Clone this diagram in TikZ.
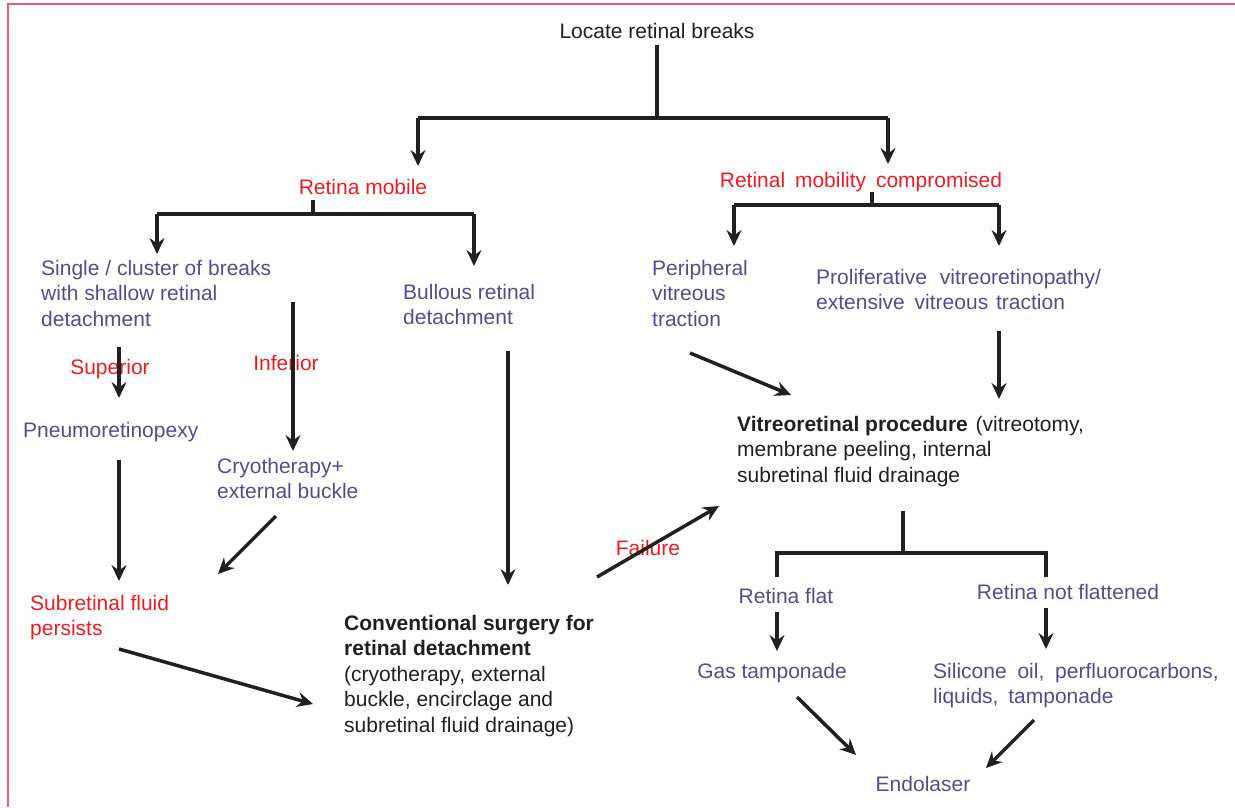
\documentclass[tikz,border=0pt]{standalone}
\usepackage{fontspec}
\setmainfont{Liberation Sans}
\usetikzlibrary{arrows.meta}
\definecolor{ink}{RGB}{35,31,32}
\definecolor{vio}{RGB}{83,77,142}
\definecolor{rd}{RGB}{237,28,36}
\definecolor{frame}{RGB}{225,93,125}
% a widened word space for justified lines
\newcommand{\wsp}[1]{\ \hspace{#1pt}}
\begin{document}
\begin{tikzpicture}[x=1pt,y=-1pt,
  font=\fontsize{21}{25.5}\selectfont,
  txt/.style={inner sep=0pt, align=left, anchor=base west},
  ctr/.style={inner sep=0pt, anchor=base},
  opt/.style={text=vio},
  lab/.style={text=rd},
  dark/.style={text=ink},
  conn/.style={draw=ink, line width=3.5pt},
  arr/.style={conn, -{Stealth[length=16pt,width=15pt,inset=5.5pt]}}]

\useasboundingbox (0,0) rectangle (1235,807);
\draw[frame, line width=2pt] (8,807) -- (8,4) -- (1235,4);

% ---- text nodes (base anchor = baseline of the last line)
\node[ctr, dark] (top) at (657,38) {Locate retinal breaks};
\node[ctr, lab] (mob) at (363,194) {Retina mobile};
\node[ctr, lab] (comp) at (861,187) {Retinal\wsp{4}mobility\wsp{4}compromised};
\node[txt, opt] (single) at (41,326) {Single / cluster of breaks\\with shallow retinal\\detachment};
\node[ctr, lab] (sup) at (110,374) {Superior};
\node[ctr, lab] (inf) at (286,370) {Inferior};
\node[txt, opt] (pneu) at (23,437) {Pneumoretinopexy};
\node[txt, opt] (cryo) at (217,498.5) {Cryotherapy+\\external buckle};
\node[txt, lab] (srf) at (30,635.5) {Subretinal fluid\\persists};
\node[txt, opt] (bull) at (403,324.5) {Bullous retinal\\detachment};
\node[txt, dark] (conv) at (344,732) {\textbf{Conventional surgery for}\\\textbf{retinal detachment}\\(cryotherapy, external\\buckle, encirclage and\\subretinal fluid drainage)};
\node[ctr, lab] (fail) at (648,555) {Failure};
\node[txt, opt] (peri) at (652,326) {Peripheral\\vitreous\\traction};
\node[txt, opt] (pvr) at (816,309.5) {Proliferative\wsp{7}vitreoretinopathy/\\extensive\wsp{4}vitreous\wsp{2}traction};
\node[txt, dark] (vr) at (737,482) {\textbf{Vitreoretinal procedure}\wsp{2}(vitreotomy,\\membrane peeling, internal\\subretinal fluid drainage};
\node[ctr, opt] (flat) at (786,603) {Retina flat};
\node[ctr, opt] (notflat) at (1068,599) {Retina not flattened};
\node[ctr, opt] (gas) at (772,678) {Gas tamponade};
\node[txt, opt] (sil) at (933,703.5) {Silicone\wsp{5}oil,\wsp{5}perfluorocarbons,\\liquids,\wsp{4}tamponade};
\node[ctr, opt] (endo) at (923,791) {Endolaser};

% ---- junction and end points
\coordinate (topS) at (657,45);
\coordinate (topJ) at (657,118);
\coordinate (jL) at (418,118);
\coordinate (jR) at (888,118);
\coordinate (mobIn) at (418,166);
\coordinate (compIn) at (888,164);

\coordinate (mobS) at (313,200);
\coordinate (mobJ) at (313,214);
\coordinate (mobL) at (157,214);
\coordinate (mobR) at (474,214);
\coordinate (singleIn) at (157,254);
\coordinate (bullIn) at (474,266);

\coordinate (compS) at (872,192);
\coordinate (compJ) at (872,205);
\coordinate (compL) at (734,205);
\coordinate (compR) at (999,205);
\coordinate (periIn) at (734,246);
\coordinate (pvrIn) at (999,246);

\coordinate (supA) at (119,347);
\coordinate (pneuIn) at (119,398);
\coordinate (infA) at (293,302);
\coordinate (cryoIn) at (293,451);
\coordinate (pneuOut) at (119,460);
\coordinate (srfIn) at (119,581);
\coordinate (cryoOut) at (276,516);
\coordinate (srfIn2) at (218,574);
\coordinate (srfOut) at (119,649);
\coordinate (convIn) at (313,704);
\coordinate (bullOut) at (508,351);
\coordinate (convIn2) at (508,585);
\coordinate (convOut) at (597,577);
\coordinate (vrIn) at (719,506);
\coordinate (periOut) at (690,353);
\coordinate (vrIn2) at (791,395);
\coordinate (pvrOut) at (999,331);
\coordinate (vrIn3) at (999,399);

\coordinate (vrS) at (903,511);
\coordinate (vrJ) at (903,553);
\coordinate (vrL) at (777,553);
\coordinate (vrR) at (1046,553);
\coordinate (vrLe) at (777,577);
\coordinate (vrRe) at (1046,577);
\coordinate (flatOut) at (777,612);
\coordinate (gasIn) at (777,651);
\coordinate (notflatOut) at (1046,608);
\coordinate (silIn) at (1046,649);
\coordinate (gasOut) at (797,697);
\coordinate (endoIn) at (856,755);
\coordinate (silOut) at (1034,720);
\coordinate (endoIn2) at (986,768);

% ---- connectors
\draw[conn] (topS) -- (topJ);
\draw[conn] (jL) -- (jR);
\draw[arr] (jL) -- (mobIn);
\draw[arr] (jR) -- (compIn);

\draw[conn] (mobS) -- (mobJ);
\draw[conn] (mobL) -- (mobR);
\draw[arr] (mobL) -- (singleIn);
\draw[arr] (mobR) -- (bullIn);

\draw[conn] (compS) -- (compJ);
\draw[conn] (compL) -- (compR);
\draw[arr] (compL) -- (periIn);
\draw[arr] (compR) -- (pvrIn);

\draw[arr] (supA) -- (pneuIn);
\draw[arr] (infA) -- (cryoIn);
\draw[arr] (pneuOut) -- (srfIn);
\draw[arr] (cryoOut) -- (srfIn2);
\draw[arr] (srfOut) -- (convIn);
\draw[arr] (bullOut) -- (convIn2);
\draw[arr] (convOut) -- (vrIn);
\draw[arr] (periOut) -- (vrIn2);
\draw[arr] (pvrOut) -- (vrIn3);

\draw[conn] (vrS) -- (vrJ);
\draw[conn] (vrLe) -- (vrL) -- (vrR) -- (vrRe);
\draw[arr] (flatOut) -- (gasIn);
\draw[arr] (notflatOut) -- (silIn);
\draw[arr] (gasOut) -- (endoIn);
\draw[arr] (silOut) -- (endoIn2);
\end{tikzpicture}
\end{document}
